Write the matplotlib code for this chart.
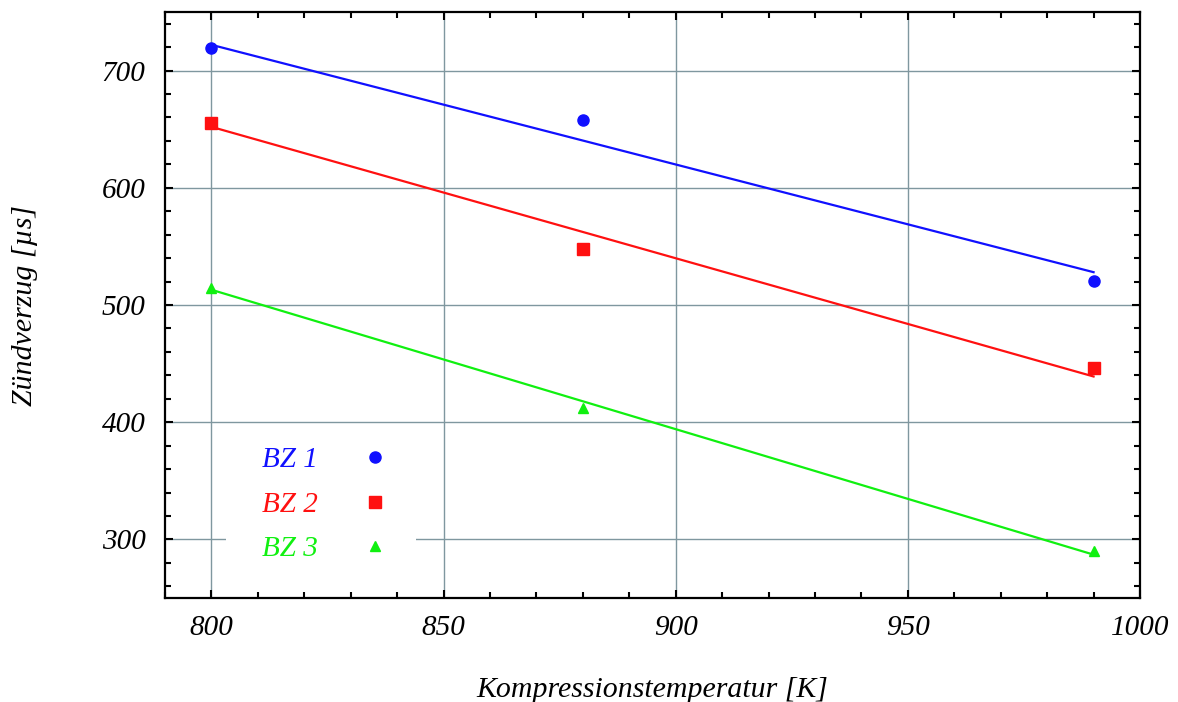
import matplotlib.pyplot as plt
from matplotlib.patches import Rectangle
from matplotlib.ticker import MultipleLocator

# measured points
temps = [800, 880, 990]
bz1 = [719.5, 658, 520.5]
bz2 = [655.5, 547.5, 446]
bz3 = [514.5, 412.5, 290.5]

# fitted lines (start/end)
fit_x = [800, 990]
fit1 = [722, 528]
fit2 = [652, 439]
fit3 = [513, 287]

labels = ['BZ 1', 'BZ 2', 'BZ 3']
colors = ['#1010ff', '#ff1010', '#10f010']
markers = ['o', 's', '^']

plt.rcParams['font.family'] = ['Liberation Serif', 'DejaVu Serif']
plt.rcParams['font.style'] = 'italic'

fig = plt.figure(figsize=(11.78, 7.02), dpi=100)
ax = fig.add_axes([165/1178, 1 - 598/702, 975/1178, 586/702])

msizes = [8, 8.5, 6.5]
for ys, fy, lab, c, m, ms in zip([bz1, bz2, bz3], [fit1, fit2, fit3],
                                  labels, colors, markers, msizes):
    ax.plot(fit_x, fy, color=c, lw=1.6, zorder=3)
    ax.plot(temps, ys, linestyle='none', marker=m, color=c, ms=ms,
            label=lab, zorder=4)

ax.set_xlim(790, 1000)
ax.set_ylim(250, 750)
ax.xaxis.set_major_locator(MultipleLocator(50))
ax.xaxis.set_minor_locator(MultipleLocator(10))
ax.yaxis.set_major_locator(MultipleLocator(100))
ax.yaxis.set_minor_locator(MultipleLocator(20))
ax.grid(True, which='major', color='#7f979f', lw=1.0, zorder=0)
ax.set_axisbelow(True)

ax.tick_params(which='both', direction='in', top=True, right=True,
               labelsize=21, width=1.5, color='black')
ax.tick_params(which='major', length=6)
ax.tick_params(which='minor', length=4)
ax.tick_params(axis='x', which='major', pad=12)
ax.tick_params(axis='y', which='major', pad=14)
for sp in ax.spines.values():
    sp.set_linewidth(1.6)

ax.set_xlabel('Kompressionstemperatur [K]', fontsize=21.5, labelpad=26)
ax.set_ylabel('Zündverzug [µs]', fontsize=21.5, labelpad=46)

# white patch behind the legend (hides the grid there)
ax.add_patch(Rectangle((0.0626, 0.039), 0.195, 0.244, transform=ax.transAxes,
                       facecolor='white', edgecolor='none', zorder=1))

leg = ax.legend(loc='upper left', bbox_to_anchor=(0.0995, 0.258),
                markerfirst=False, frameon=False,
                fontsize=21, handlelength=1.0, handletextpad=1.45,
                labelspacing=0.62, borderpad=0, borderaxespad=0)
for txt, c in zip(leg.get_texts(), colors):
    txt.set_color(c)

fig.savefig('out.png', dpi=100)
